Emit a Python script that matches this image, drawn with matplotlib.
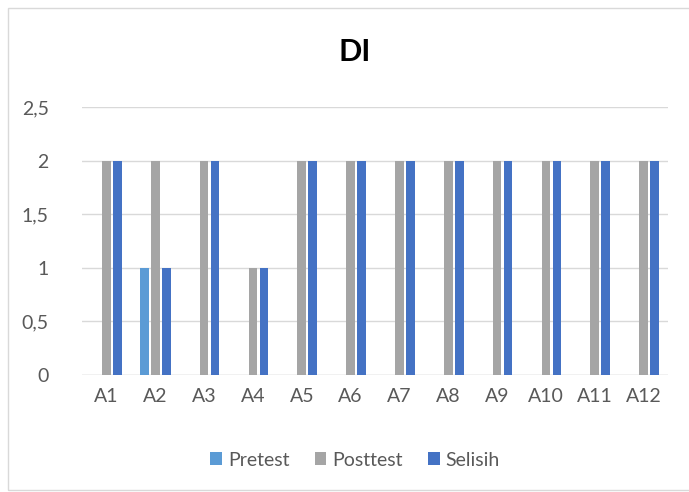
import matplotlib.pyplot as plt
import numpy as np
from matplotlib.patches import Rectangle

plt.rcParams['font.family'] = ['Lato', 'DejaVu Sans']

categories = ['A1', 'A2', 'A3', 'A4', 'A5', 'A6', 'A7', 'A8', 'A9', 'A10', 'A11', 'A12']
pretest = [0, 1, 0, 0, 0, 0, 0, 0, 0, 0, 0, 0]
posttest = [2, 2, 2, 1, 2, 2, 2, 2, 2, 2, 2, 2]
selisih = [2, 1, 2, 1, 2, 2, 2, 2, 2, 2, 2, 2]
yticks = [0, 0.5, 1, 1.5, 2, 2.5]

fig = plt.figure(figsize=(6.89, 4.92), dpi=100)
# chart border
fig.patches.append(Rectangle((8 / 689, 2 / 492), 690 / 689, 482 / 492,
                             transform=fig.transFigure, fill=False,
                             edgecolor='#D9D9D9', linewidth=1))

ax = fig.add_axes([82 / 689, 117 / 492, 586 / 689, 268 / 492])
x = np.arange(len(categories))
w = 0.18
off = 0.225
ax.bar(x - off, pretest, w, color='#5B9BD5', label='Pretest', zorder=3)
ax.bar(x, posttest, w, color='#A5A5A5', label='Posttest', zorder=3)
ax.bar(x + off, selisih, w, color='#4472C4', label='Selisih', zorder=3)

ax.set_xlim(-0.5, len(categories) - 0.5)
ax.set_ylim(0, 2.5)
ax.set_yticks(yticks)
ax.set_yticklabels([str(v).replace('.', ',') if v != int(v) else str(int(v)) for v in yticks])
ax.set_xticks(x)
ax.set_xticklabels(categories)
ax.grid(axis='y', color='#D9D9D9', linewidth=1, zorder=0)
for s in ax.spines.values():
    s.set_visible(False)
ax.tick_params(length=0, labelsize=14, colors='#595959', pad=9)
ax.tick_params(axis='y', pad=24)
ax.axhline(0, color='#D9D9D9', linewidth=1, zorder=2)

fig.text(355 / 689, 1 - 52 / 492, 'DI', ha='center', va='center',
         fontsize=22, fontweight='bold', color='black')

leg = fig.legend(loc='center', bbox_to_anchor=(355 / 689, 1 - 460 / 492), ncol=3,
                 frameon=False, fontsize=14, handlelength=0.6, handleheight=0.6,
                 columnspacing=1.3, handletextpad=0.3)
for t in leg.get_texts():
    t.set_color('#595959')

fig.savefig('out.png', dpi=100)
